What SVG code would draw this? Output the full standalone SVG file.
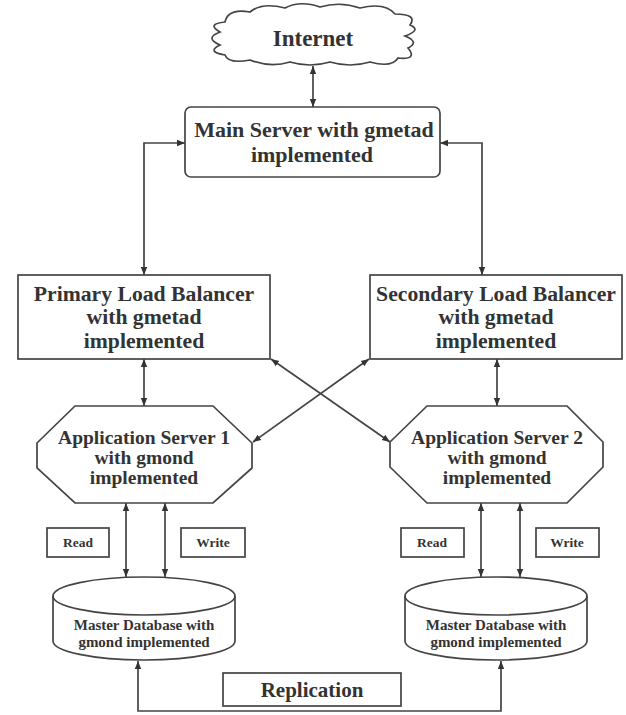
<svg xmlns="http://www.w3.org/2000/svg" width="626" height="715" viewBox="0 0 626 715">
<style>
.shape{fill:#fff;stroke:#444;stroke-width:1.7}
.t{font-family:"Liberation Serif","Times New Roman",serif;font-weight:bold;fill:#333;text-anchor:middle}
.c{fill:none;stroke:#444;stroke-width:1.7;marker-start:url(#ah);marker-end:url(#ah)}
</style>
<defs>
<marker id="ah" viewBox="0 0 10 10" refX="10" refY="5" markerWidth="8" markerHeight="8" markerUnits="userSpaceOnUse" orient="auto-start-reverse">
<path d="M0,1 L10,5 L0,9 Z" fill="#333"/>
</marker>
</defs>
<rect width="626" height="715" fill="#fff"/>
<g id="connectors">
<line class="c" x1="313" y1="66" x2="313" y2="107"/>
<path class="c" d="M185,143 H144 V275"/>
<path class="c" d="M440,143 H482 V275"/>
<line class="c" x1="144" y1="359" x2="144" y2="406"/>
<line class="c" x1="497" y1="359" x2="497" y2="406"/>
<line class="c" x1="271" y1="359" x2="390" y2="442"/>
<line class="c" x1="369" y1="359" x2="253" y2="442"/>
<line class="c" x1="126" y1="503" x2="126" y2="577"/>
<line class="c" x1="165" y1="503" x2="165" y2="577"/>
<line class="c" x1="481" y1="503" x2="481" y2="577"/>
<line class="c" x1="520" y1="503" x2="520" y2="577"/>
<path class="c" d="M138,661 V711 H501 V661"/>
</g>
<g id="internet">
<path class="shape" d="M225,22 Q228,8 250,12 Q262,2 285,8 Q300,0 320,7 Q340,1 360,8 Q385,2 395,14 Q418,14 410,25 Q422,30 405,36 Q420,42 408,48 Q418,60 398,58 Q392,68 370,62 Q350,68 330,62 Q310,68 290,62 Q270,68 250,60 Q228,64 225,55 Q206,52 220,45 Q204,38 220,32 Q206,24 225,22 Z"/>
<text class="t" x="313" y="46" font-size="23">Internet</text>
</g>
<g id="main-server">
<rect class="shape" x="185" y="107" width="255" height="70" rx="6"/>
<text class="t" x="314" y="137" font-size="22">Main Server with gmetad</text>
<text class="t" x="312" y="162" font-size="22">implemented</text>
</g>
<g id="primary-lb">
<rect class="shape" x="18" y="275" width="252" height="84"/>
<text class="t" x="144" y="301" font-size="21.7">Primary Load Balancer</text>
<text class="t" x="144" y="324" font-size="21.7">with gmetad</text>
<text class="t" x="144" y="348" font-size="21.7">implemented</text>
</g>
<g id="secondary-lb">
<rect class="shape" x="370" y="275" width="252" height="84"/>
<text class="t" x="496" y="301" font-size="21.7">Secondary Load Balancer</text>
<text class="t" x="496" y="324" font-size="21.7">with gmetad</text>
<text class="t" x="496" y="348" font-size="21.7">implemented</text>
</g>
<g id="app-server-1">
<polygon class="shape" points="75,406 213,406 252,443 252,468 213,503 75,503 37,468 37,443"/>
<text class="t" x="144" y="444" font-size="19.5">Application Server 1</text>
<text class="t" x="144" y="464" font-size="19.5">with gmond</text>
<text class="t" x="144" y="484" font-size="19.5">implemented</text>
</g>
<g id="app-server-2">
<polygon class="shape" points="427,406 567,406 603,442 603,467 567,503 427,503 390,467 390,442"/>
<text class="t" x="497" y="444" font-size="19.5">Application Server 2</text>
<text class="t" x="497" y="464" font-size="19.5">with gmond</text>
<text class="t" x="497" y="484" font-size="19.5">implemented</text>
</g>
<g id="read-1">
<rect class="shape" x="47" y="528" width="62" height="29"/>
<text class="t" x="78" y="547" font-size="13.5">Read</text>
</g>
<g id="write-1">
<rect class="shape" x="181" y="528" width="64" height="29"/>
<text class="t" x="213" y="547" font-size="13.5">Write</text>
</g>
<g id="read-2">
<rect class="shape" x="401" y="528" width="63" height="29"/>
<text class="t" x="432" y="547" font-size="13.5">Read</text>
</g>
<g id="write-2">
<rect class="shape" x="536" y="528" width="63" height="29"/>
<text class="t" x="567" y="547" font-size="13.5">Write</text>
</g>
<g id="db-1">
<path class="shape" d="M53,596 V641 A91,19 0 0 0 235,641 V596"/>
<ellipse class="shape" cx="144" cy="596" rx="91" ry="19"/>
<text class="t" x="144" y="630" font-size="15">Master Database with</text>
<text class="t" x="144" y="647" font-size="15">gmond implemented</text>
</g>
<g id="db-2">
<path class="shape" d="M405,596 V641 A91,19 0 0 0 587,641 V596"/>
<ellipse class="shape" cx="496" cy="596" rx="91" ry="19"/>
<text class="t" x="496" y="630" font-size="15">Master Database with</text>
<text class="t" x="496" y="647" font-size="15">gmond implemented</text>
</g>
<g id="replication">
<rect class="shape" x="223" y="673" width="178" height="33"/>
<text class="t" x="312" y="697" font-size="21">Replication</text>
</g>
</svg>
